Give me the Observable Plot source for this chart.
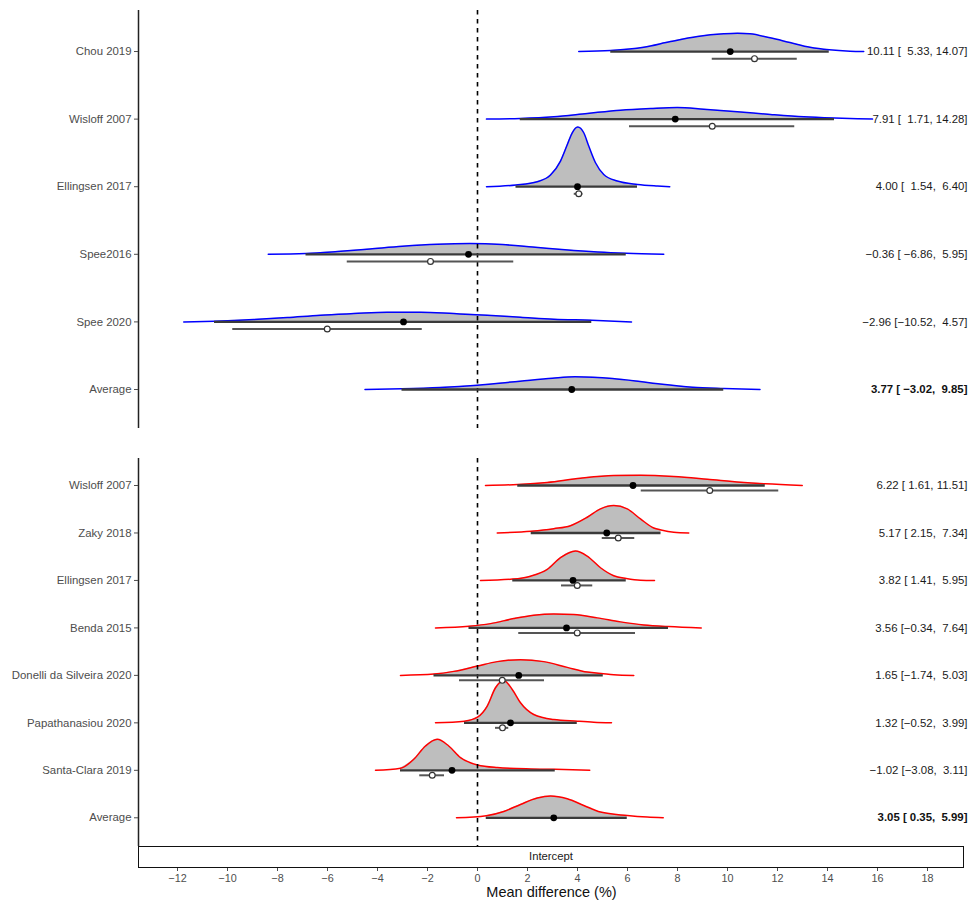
<!DOCTYPE html>
<html><head><meta charset="utf-8">
<script src="https://cdn.jsdelivr.net/npm/d3@7"></script>
<script src="https://cdn.jsdelivr.net/npm/@observablehq/plot@0.6"></script>
<style>
body{margin:0;background:#fff;font-family:"Liberation Sans",Arial,sans-serif;}
#chart{width:971px;}
#chart svg{display:block;}
#strip{margin-left:138px;width:826px;height:22px;box-sizing:border-box;border:1.6px solid #111;text-align:center;font-size:11.3px;color:#1a1a1a;line-height:19px;background:#fff;}
</style></head><body><div id="chart"></div>
<script>
// ---------- top panel (blue) ----------
const topStudies = ["Chou 2019","Wisloff 2007","Ellingsen 2017","Spee2016","Spee 2020","Average"];
const topEst = [10.11, 7.91, 4.00, -0.36, -2.96, 3.77];
const topLo  = [5.33, 1.71, 1.54, -6.86, -10.52, -3.02];
const topHi  = [14.07, 14.28, 6.40, 5.95, 4.57, 9.85];
const topObs   = [11.08, 9.39, 4.05, -1.88, -6.01, null];
const topObsLo = [9.39, 6.08, 3.87, -5.21, -9.79, null];
const topObsHi = [12.79, 12.69, 4.22, 1.45, -2.21, null];
const topDensX = [
  [4.05, 5.33, 6.65, 7.72, 8.8, 9.85, 10.4, 10.9, 11.7, 12.5, 13.3, 14.07, 14.9, 15.45],
  [0.36, 1.71, 3.05, 4.39, 5.72, 6.92, 7.99, 9.05, 10.39, 11.72, 13.05, 14.28, 15.2, 15.8],
  [0.36, 1.54, 2.39, 2.92, 3.32, 3.59, 3.79, 4.01, 4.25, 4.45, 4.72, 5.05, 5.59, 6.40, 7.2, 7.69],
  [-8.37, -6.86, -5.6, -4.3, -3.0, -1.6, -0.3, 1.0, 2.2, 3.5, 4.8, 5.95, 7.45],
  [-11.75, -10.52, -8.95, -7.61, -6.28, -4.95, -3.61, -2.28, -0.95, 0.39, 1.72, 3.05, 4.57, 6.16],
  [-4.5, -3.02, -1.5, 0, 1.7, 3.0, 3.9, 5.4, 6.5, 7.3, 8.6, 9.85, 11.3]
];
const topDensY = [
  [0, 0.01, 0.043, 0.10, 0.15, 0.177, 0.183, 0.178, 0.137, 0.09, 0.043, 0.017, 0.003, 0],
  [0, 0.006, 0.023, 0.057, 0.09, 0.107, 0.117, 0.10, 0.075, 0.047, 0.023, 0.01, 0.003, 0],
  [0, 0.017, 0.05, 0.117, 0.257, 0.42, 0.54, 0.597, 0.54, 0.407, 0.24, 0.123, 0.057, 0.023, 0.007, 0],
  [0, 0.007, 0.027, 0.053, 0.08, 0.10, 0.107, 0.097, 0.073, 0.045, 0.023, 0.01, 0],
  [0, 0.007, 0.023, 0.043, 0.067, 0.083, 0.097, 0.097, 0.083, 0.067, 0.047, 0.027, 0.017, 0],
  [0, 0.007, 0.02, 0.043, 0.083, 0.113, 0.127, 0.11, 0.08, 0.055, 0.023, 0.01, 0]
];

// ---------- bottom panel (red) ----------
const botStudies = ["Wisloff 2007","Zaky 2018","Ellingsen 2017","Benda 2015","Donelli da Silveira 2020","Papathanasiou 2020","Santa-Clara 2019","Average"];
const botEst = [6.22, 5.17, 3.82, 3.56, 1.65, 1.32, -1.02, 3.05];
const botLo  = [1.61, 2.15, 1.41, -0.34, -1.74, -0.52, -3.08, 0.35];
const botHi  = [11.51, 7.34, 5.95, 7.64, 5.03, 3.99, 3.11, 5.99];
const botObs   = [9.29, 5.63, 3.99, 3.99, 0.99, 1.0, -1.81, null];
const botObsLo = [6.55, 4.99, 3.36, 1.65, -0.72, 0.72, -2.31, null];
const botObsHi = [12.05, 6.29, 4.61, 6.32, 2.68, 1.25, -1.32, null];
const botDensX = [
  [0.32, 1.61, 2.79, 4.12, 5.45, 6.52, 7.85, 9.19, 10.52, 11.51, 12.99],
  [0.79, 2.15, 3.05, 3.72, 4.39, 4.92, 5.45, 5.99, 6.52, 7.05, 7.34, 7.85, 8.45],
  [0.12, 1.41, 2.12, 2.79, 3.32, 3.92, 4.39, 4.92, 5.45, 5.95, 6.52, 7.08],
  [-1.68, -0.34, 0.52, 1.45, 2.25, 3.05, 3.85, 4.79, 5.72, 6.65, 7.64, 8.95],
  [-3.08, -1.74, -0.95, 0, 0.79, 1.72, 2.65, 3.59, 4.39, 5.03, 5.45, 6.25],
  [-1.68, -0.52, 0, 0.39, 0.72, 1.05, 1.39, 1.72, 2.25, 3.05, 3.99, 4.65, 5.36],
  [-4.08, -3.08, -2.55, -2.08, -1.61, -1.15, -0.68, 0, 0.79, 2.12, 3.11, 4.49],
  [-0.84, 0.35, 1.05, 1.72, 2.39, 2.92, 3.59, 4.25, 4.92, 5.99, 6.79, 7.43]
];
const botDensY = [
  [0, 0.014, 0.043, 0.104, 0.143, 0.147, 0.129, 0.09, 0.047, 0.024, 0],
  [0, 0.024, 0.061, 0.104, 0.224, 0.343, 0.39, 0.343, 0.2, 0.071, 0.043, 0.01, 0],
  [0, 0.019, 0.061, 0.157, 0.324, 0.419, 0.347, 0.181, 0.067, 0.029, 0.004, 0],
  [0, 0.024, 0.061, 0.133, 0.181, 0.2, 0.19, 0.143, 0.086, 0.043, 0.019, 0],
  [0, 0.019, 0.057, 0.133, 0.196, 0.224, 0.196, 0.114, 0.047, 0.024, 0.01, 0],
  [0, 0.024, 0.081, 0.239, 0.5, 0.604, 0.476, 0.286, 0.119, 0.047, 0.024, 0.01, 0],
  [0, 0.029, 0.157, 0.347, 0.443, 0.347, 0.181, 0.076, 0.039, 0.019, 0.014, 0],
  [0, 0.029, 0.09, 0.19, 0.281, 0.31, 0.271, 0.176, 0.081, 0.033, 0.01, 0]
];

const xTicks = [-12,-10,-8,-6,-4,-2,0,2,4,6,8,10,12,14,16,18];
const stripLabel = "Intercept";
const xTitle = "Mean difference (%)";

// ---------- layout ----------
const W = 971, ML = 138, MR = 7;
const XDOM = [-13.56, 19.48];
const K = 1.478;      // density -> row units
const NUDGE = 0.105;  // observed estimate offset below the row
const FONT = "'Liberation Sans', Arial, Helvetica, sans-serif";

function fmt(v, w) {
  let s = v.toFixed(2);
  while (s.length < w) s = "\u00A0" + s;
  return s.replace("-", "\u2212");
}

function panel(o) {
  const n = o.names.length;
  const wLo = Math.max(...o.lo.map(v => v.toFixed(2).length));
  const wHi = Math.max(...o.hi.map(v => v.toFixed(2).length));
  const rows = o.names.map((name, i) => ({
    name, r: n - 1 - i, est: o.est[i], lo: o.lo[i], hi: o.hi[i],
    obs: o.obs[i], obsLo: o.obsLo[i], obsHi: o.obsHi[i],
    label: `${fmt(o.est[i], 0)} [${fmt(o.lo[i], wLo)}, ${fmt(o.hi[i], wHi)}]`,
    bold: name === "Average"
  }));
  const curve = [], fillPts = [];
  rows.forEach((row, i) => {
    o.densX[i].forEach((x, j) => {
      const p = {name: row.name, r: row.r, x, d: o.densY[i][j]};
      curve.push(p);
      if (x >= row.lo - 1e-9 && x <= row.hi + 1e-9) fillPts.push(p);
    });
  });
  const obsRows = rows.filter(d => d.obs != null);
  return Plot.plot({
    width: W, height: o.height, marginLeft: ML, marginRight: MR,
    marginTop: o.marginTop, marginBottom: o.marginBottom,
    style: {fontFamily: FONT, background: "white", overflow: "visible"},
    x: {domain: XDOM, axis: null},
    y: {domain: o.yDomain},
    marks: [
      Plot.areaY(fillPts, {x: "x", y1: "r", y2: d => d.r + d.d * K, z: "name", fill: "#bebebe", curve: "monotone-x"}),
      Plot.line(curve, {x: "x", y: d => d.r + d.d * K, z: "name", stroke: o.color, strokeWidth: 1.5, curve: "monotone-x"}),
      Plot.ruleX([0], {stroke: "black", strokeWidth: 1.6, strokeDasharray: "4.5,4.5"}),
      Plot.ruleY(rows, {y: "r", x1: "lo", x2: "hi", stroke: "#3a3a3a", strokeWidth: 2.3}),
      Plot.dot(rows, {x: "est", y: "r", r: 3.4, fill: "black"}),
      Plot.ruleY(obsRows, {y: d => d.r - NUDGE, x1: "obsLo", x2: "obsHi", stroke: "#555", strokeWidth: 2}),
      Plot.dot(obsRows, {x: "obs", y: d => d.r - NUDGE, r: 2.9, fill: "white", stroke: "#333", strokeWidth: 1.2}),
      Plot.text(rows.filter(d => !d.bold), {y: "r", text: "label", frameAnchor: "right", textAnchor: "end", dx: 3, fontSize: 11.4, fill: "#1a1a1a"}),
      Plot.text(rows.filter(d => d.bold), {y: "r", text: "label", frameAnchor: "right", textAnchor: "end", dx: 3, fontSize: 11.4, fontWeight: "bold", fill: "#111"}),
      Plot.ruleX([XDOM[0]], {stroke: "#222", strokeWidth: 1.5}),
      Plot.axisY({ticks: rows.map(d => d.r), tickFormat: r => o.names[n - 1 - r], tickSize: 4, tickPadding: 3, fontSize: 11.4, color: "#4d4d4d", label: null})
    ]
  });
}

const chart = document.getElementById("chart");
chart.appendChild(panel({
  names: topStudies, est: topEst, lo: topLo, hi: topHi,
  obs: topObs, obsLo: topObsLo, obsHi: topObsHi,
  densX: topDensX, densY: topDensY, color: "#0000ff",
  yDomain: [-0.577, 5.607], height: 440, marginTop: 10, marginBottom: 12
}));
chart.appendChild(panel({
  names: botStudies, est: botEst, lo: botLo, hi: botHi,
  obs: botObs, obsLo: botObsLo, obsHi: botObsHi,
  densX: botDensX, densY: botDensY, color: "#ff0000",
  yDomain: [-0.605, 7.569], height: 406, marginTop: 18, marginBottom: 0
}));
const strip = document.createElement("div");
strip.id = "strip";
strip.textContent = stripLabel;
chart.appendChild(strip);
chart.appendChild(Plot.plot({
  width: W, height: 37, marginLeft: ML, marginRight: MR, marginTop: 0, marginBottom: 37,
  style: {fontFamily: FONT, background: "white", overflow: "visible"},
  x: {domain: XDOM},
  marks: [
    Plot.axisX({ticks: xTicks, tickSize: 3, tickPadding: 3, fontSize: 10.8, color: "#4d4d4d", label: null}),
    Plot.text([xTitle], {frameAnchor: "bottom", dy: 28.5, fontSize: 14.5, fill: "#111"})
  ]
}));
</script></body></html>
